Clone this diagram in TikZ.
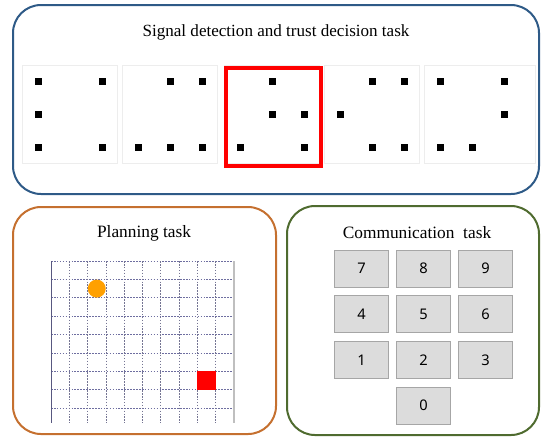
\documentclass[tikz,border=0pt]{standalone}
\usepackage{fontspec}
\setmainfont{Liberation Serif}
\newfontfamily\keyfont{Noto Sans}
\usepackage{tikz}
\usepackage{xcolor}
\usetikzlibrary{positioning}
\definecolor{sdtblue}{RGB}{46, 90, 135}
\definecolor{planorange}{RGB}{197, 112, 47}
\definecolor{commgreen}{RGB}{79, 107, 47}
\definecolor{gridblue}{RGB}{110, 110, 160}
\definecolor{keygray}{RGB}{220, 220, 220}
\definecolor{keyedge}{RGB}{166, 166, 166}
\definecolor{dotorange}{RGB}{255, 160, 0}
\tikzset{
    taskframe/.style={line width=1.5pt, rounded corners=21pt},
    tasktitle/.style={font=\fontsize{13}{15}\selectfont, inner sep=0pt},
    panel/.style={draw=black!7, minimum height=73.5pt, inner sep=0pt, anchor=north west},
    signal/.style={fill=black, minimum size=5.25pt, inner sep=0pt},
    keybtn/.style={draw=keyedge, fill=keygray, minimum width=40.5pt, minimum height=27.75pt, inner sep=0pt, font=\keyfont\fontsize{11}{13}\selectfont},
    gridline/.style={gridblue, dashed, dash pattern=on 1.2pt off 1pt, line width=0.5pt}
}

\begin{document}
\begin{tikzpicture}[x=0.75pt, y=-0.75pt]
    \useasboundingbox (0,0) rectangle (541,437);

    % signal detection task
    \draw[taskframe, sdtblue] (13,5) rectangle (539,194);
    \node[tasktitle, font=\fontsize{12.8}{15}\selectfont] (sdt) at (276,32) {Signal detection and trust decision task};
    \foreach \i/\xl/\w/\pat in {1/22/71.25/{0/0,2/0,0/1,0/2,2/2},
                                2/122/71.25/{1/0,2/0,0/2,1/2,2/2},
                                3/224/71.25/{1/0,1/1,2/1,0/2,2/2},
                                4/324/71.25/{1/0,2/0,0/1,1/2,2/2},
                                5/424/83.25/{0/0,2/0,2/1,0/2,1/2}} {
        \node[panel, minimum width=\w pt] (p\i) at (\xl,65) {};
        \foreach \c/\r in \pat
            \node[signal] (s\i\c\r) at (\xl+16+32*\c, 81+33*\r) {};
    }
    \node[panel, minimum width=71.25pt, draw=red, line width=3pt] (pick) at (224,66) {};

    % planning task
    \draw[taskframe, planorange] (13,207) rectangle (276,434);
    \node[tasktitle] (plan) at (144,233) {Planning task};
    \foreach \j in {0,...,8}
        \draw[gridline] (51,261+18.4*\j) -- (234,261+18.4*\j);
    \foreach \i in {1,...,9}
        \draw[gridline, gridblue!60!gray] (51+18.3*\i,261) -- (51+18.3*\i,423);
    \draw[gridblue!80!black, line width=0.6pt] (51,261) -- (51,423);
    \draw[black!25, line width=0.8pt] (234,261) -- (234,423);
    \node[circle, fill=dotorange, minimum size=13.5pt, inner sep=0pt] (agent) at (96.75,288.6) {};
    \node[fill=red, minimum size=13.7pt, inner sep=0pt] (goal) at (206.5,380.6) {};

    % communication task
    \draw[taskframe, commgreen] (287,206) rectangle (539,435);
    \node[tasktitle] (comm) at (417,233) {Communication\ \ task};
    \foreach \k/\col/\row in {7/0/0,8/1/0,9/2/0,4/0/1,5/1/1,6/2/1,1/0/2,2/1/2,3/2/2,0/1/3}
        \node[keybtn] (k\k) at (361.5+62*\col, 268.5+45.7*\row) {\k};
\end{tikzpicture}
\end{document}
